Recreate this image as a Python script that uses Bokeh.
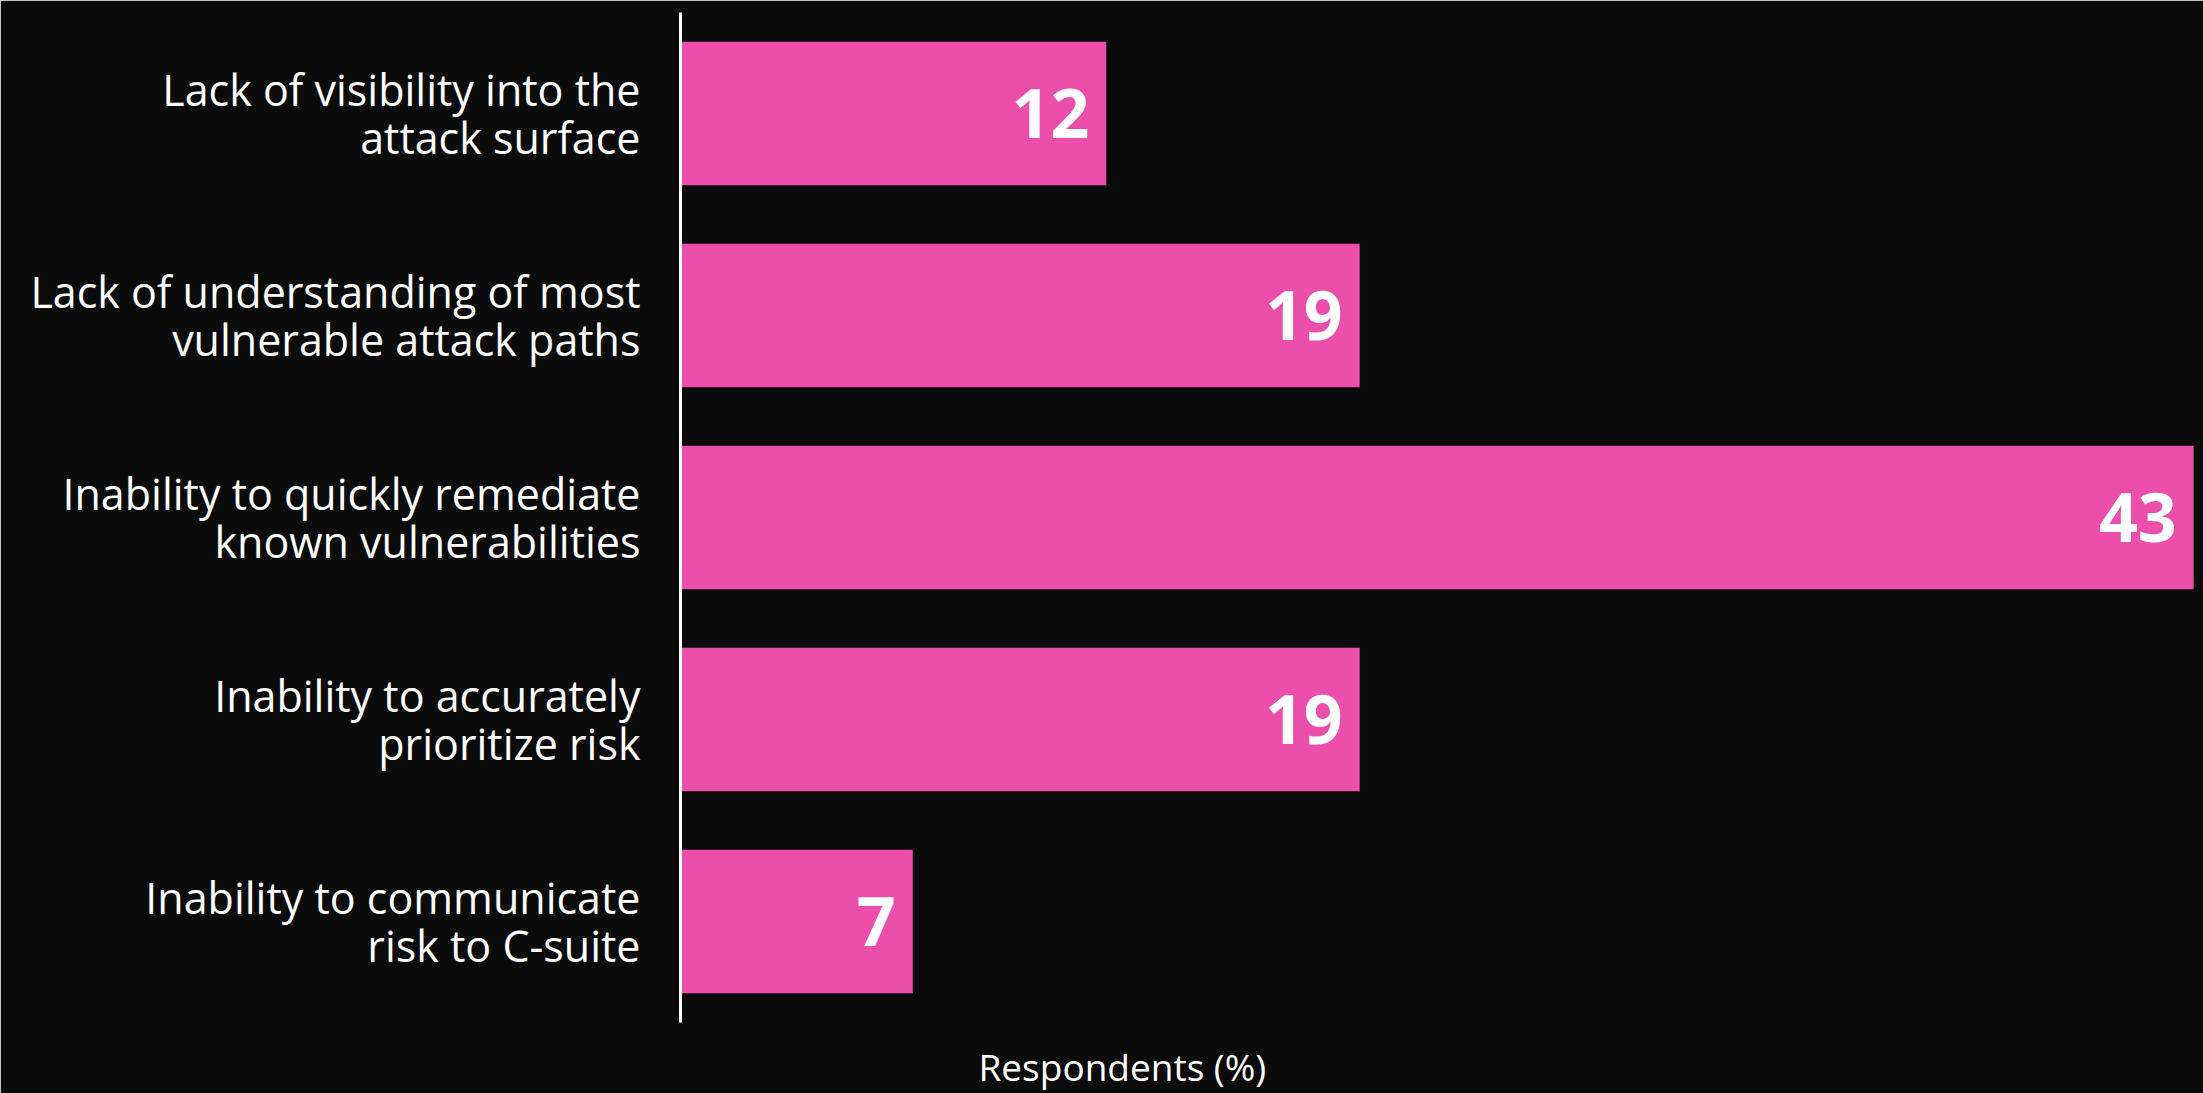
from bokeh.plotting import figure
from bokeh.models import ColumnDataSource, FactorRange, Range1d, Title
from bokeh.core.properties import value
from bokeh.embed import file_html
from bokeh.resources import INLINE

categories = [
    "Lack of visibility into the\nattack surface",
    "Lack of understanding of most\nvulnerable attack paths",
    "Inability to quickly remediate\nknown vulnerabilities",
    "Inability to accurately\nprioritize risk",
    "Inability to communicate\nrisk to C-suite",
]
respondents_pct = [12.1, 19.3, 43.0, 19.3, 6.6]
value_labels = [str(int(round(v))) for v in respondents_pct]
x_axis_title = "Respondents (%)"

BG = "#0b0b0b"
PINK = "#ec4fab"
FONT = "Open Sans"

src = ColumnDataSource(dict(cat=categories, val=respondents_pct, lab=value_labels))

p = figure(
    frame_width=1523, frame_height=1010,
    y_range=FactorRange(*reversed(categories)),
    x_range=Range1d(0, 43.28),
    output_backend="svg", toolbar_location=None,
    min_border_left=680, min_border_right=0, min_border_top=12, min_border_bottom=71,
)
p.background_fill_color = BG
p.border_fill_color = BG
p.outline_line_color = BG
p.outline_line_width = 2
p.grid.grid_line_color = None

p.hbar(y="cat", right="val", left=0, height=0.71, source=src,
       fill_color=PINK, line_color=None)

p.text(x="val", y="cat", text="lab", source=src, x_offset=-17,
       text_align="right", text_baseline="middle",
       text_font=value(FONT), text_font_style="bold", text_font_size="68px",
       text_color="white")

p.xaxis.visible = False
yax = p.yaxis[0]
yax.axis_line_color = "white"
yax.axis_line_width = 3
yax.major_tick_line_color = None
yax.minor_tick_line_color = None
yax.major_tick_out = 0
yax.major_tick_in = 0
yax.major_label_standoff = 40
yax.major_label_text_font = FONT
yax.major_label_text_font_size = "43px"
yax.major_label_text_color = "white"
yax.major_label_text_line_height = 0.82

t = Title(text=x_axis_title, align="left", offset=298,
          text_font=FONT, text_font_size="37px", text_font_style="normal",
          text_color="white", standoff=32)
p.add_layout(t, "below")

html = file_html(p, INLINE)
html = html.replace("<body>", '<body style="margin:0;background:%s;">' % BG, 1)
open("out.html", "w").write(html)
